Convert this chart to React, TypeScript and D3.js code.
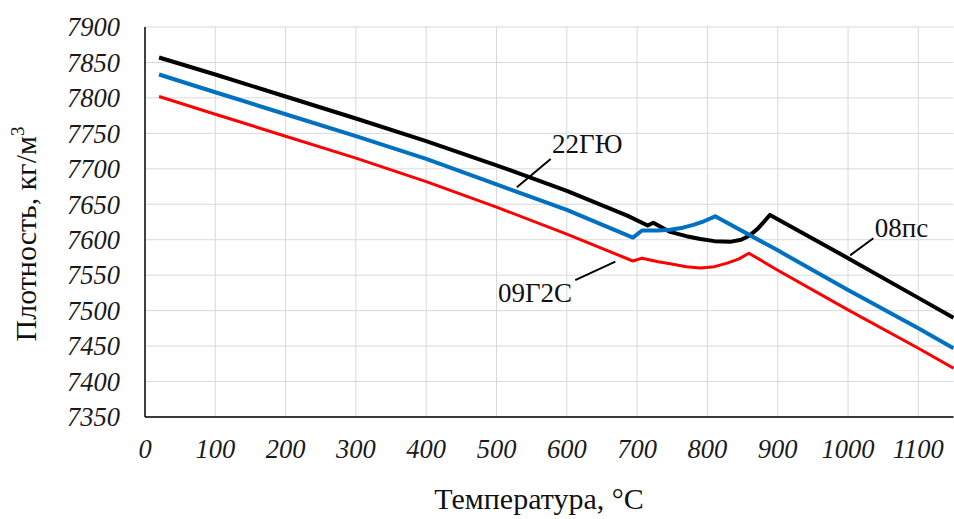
import React from "react";
import * as d3 from "d3";

// Температура, °C и плотность, кг/м3 для трёх сталей
const temp08ps = [20, 100, 200, 300, 400, 500, 600, 686, 715, 723, 747, 770, 790, 810, 832, 848, 860, 872, 889, 1000, 1100, 1150];
const dens08ps = [7857, 7833, 7802, 7771, 7739, 7705, 7669, 7634, 7620, 7624, 7611, 7605, 7601, 7598, 7597, 7600, 7606, 7616, 7635, 7574, 7518, 7490];

const temp22gyu = [20, 100, 200, 300, 400, 500, 600, 694, 707, 730, 747, 765, 780, 795, 811, 900, 1000, 1100, 1150];
const dens22gyu = [7833, 7808, 7777, 7746, 7714, 7678, 7642, 7603, 7613, 7613, 7614, 7617, 7621, 7626, 7633, 7585, 7529, 7475, 7447];

const temp09g2s = [20, 100, 200, 300, 400, 500, 600, 694, 707, 730, 747, 770, 790, 810, 828, 845, 859, 900, 1000, 1100, 1150];
const dens09g2s = [7802, 7777, 7746, 7715, 7682, 7646, 7608, 7570, 7574, 7569, 7566, 7562, 7560, 7562, 7567, 7573, 7581, 7557, 7501, 7447, 7419];

const xTicks = [0, 100, 200, 300, 400, 500, 600, 700, 800, 900, 1000, 1100];
const yTicks = [7350, 7400, 7450, 7500, 7550, 7600, 7650, 7700, 7750, 7800, 7850, 7900];

// подписи серий: текст, начало текста, выноска
const labels = [
  { name: "22ГЮ", tx: 579, ty: 7722, from: [577, 7714], to: [529, 7674] },
  { name: "09Г2С", tx: 502, ty: 7512, from: [612, 7543], to: [669, 7569] },
  { name: "08пс", tx: 1038, ty: 7604, from: [1036, 7602], to: [1003, 7578] },
];

const series = [
  { t: temp08ps, d: dens08ps, color: "#000000", w: 4 },
  { t: temp22gyu, d: dens22gyu, color: "#0070C0", w: 4 },
  { t: temp09g2s, d: dens09g2s, color: "#FF0000", w: 3 },
];

const width = 954;
const height = 519;
const margin = { top: 27, right: 0.5, bottom: 102, left: 145 };

export default function App() {
  const x = d3.scaleLinear().domain([0, 1150]).range([margin.left, width - margin.right]);
  const y = d3.scaleLinear().domain([7350, 7900]).range([height - margin.bottom, margin.top]);

  const line = d3
    .line<[number, number]>()
    .x((p) => x(p[0]))
    .y((p) => y(p[1]))
    .curve(d3.curveLinear);

  const font = "'Liberation Serif', 'Times New Roman', serif";

  return (
    <svg
      width={width}
      height={height}
      style={{ position: "absolute", left: 0, top: 0, background: "#fff" }}
      fontFamily={font}
    >
      {/* сетка */}
      <g stroke="#d9d9d9" strokeWidth={1}>
        {yTicks.map((v) => (
          <line key={"gy" + v} x1={x(0)} x2={x(1150)} y1={y(v)} y2={y(v)} />
        ))}
        {xTicks.slice(1).map((v) => (
          <line key={"gx" + v} x1={x(v)} x2={x(v)} y1={y(7900)} y2={y(7350)} />
        ))}
      </g>

      {/* оси */}
      <line x1={x(0)} x2={x(0)} y1={y(7900)} y2={y(7350)} stroke="#000" strokeWidth={1.5} />
      <line x1={x(0)} x2={x(1150)} y1={y(7350)} y2={y(7350)} stroke="#000" strokeWidth={1.5} />

      {/* подписи делений */}
      <g fontStyle="italic" fontSize={26.5} fill="#1a1a1a">
        {yTicks.map((v) => (
          <text key={"ty" + v} x={x(0) - 25} y={y(v)} dy="0.35em" textAnchor="end">
            {v}
          </text>
        ))}
        {xTicks.map((v) => (
          <text key={"tx" + v} x={x(v)} y={y(7350) + 41} textAnchor="middle">
            {v}
          </text>
        ))}
      </g>

      {/* линии */}
      {series.map((s, i) => (
        <path
          key={i}
          d={line(s.t.map((t, j) => [t, s.d[j]] as [number, number])) || ""}
          fill="none"
          stroke={s.color}
          strokeWidth={s.w}
          strokeLinejoin="round"
        />
      ))}

      {/* подписи серий */}
      <g fontSize={27} fill="#111">
        {labels.map((l) => (
          <g key={l.name}>
            <line
              x1={x(l.from[0])}
              y1={y(l.from[1])}
              x2={x(l.to[0])}
              y2={y(l.to[1])}
              stroke="#000"
              strokeWidth={2}
            />
            <text x={x(l.tx)} y={y(l.ty)}>
              {l.name}
            </text>
          </g>
        ))}
      </g>

      {/* названия осей */}
      <text x={539} y={509} textAnchor="middle" fontSize={30} fill="#111">
        Температура, °C
      </text>
      <text
        transform={`translate(36, 234) rotate(-90)`}
        textAnchor="middle"
        fontSize={30}
        fill="#111"
      >
        Плотность, кг/м<tspan dy="-12" fontSize={19}>3</tspan>
      </text>
    </svg>
  );
}
